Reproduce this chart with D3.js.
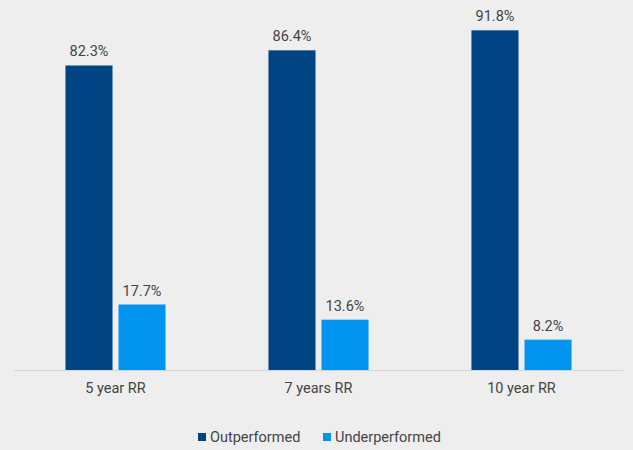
<!DOCTYPE html>
<html>
<head>
<meta charset="utf-8">
<script src="https://cdn.jsdelivr.net/npm/d3@7"></script>
<style>
  body { margin: 0; background: #eeeeee; }
  svg { display: block; font-family: Roboto, "Noto Sans", sans-serif; }
</style>
</head>
<body>
<svg width="633" height="450"></svg>
<script>
// chart data
let categories = ["5 year RR", "7 years RR", "10 year RR"];
let series = ["Outperformed", "Underperformed"];
let outperformed = [82.3, 86.4, 91.8];
let underperformed = [17.7, 13.6, 8.2];
let colors = ["#004483", "#0094ef"];

let rows = categories.map((c, i) => ({
  cat: c,
  vals: [outperformed[i], underperformed[i]]
}));

let svg = d3.select("svg");

// plot area
let left = 14, right = 623, baseline = 370;

let x0 = d3.scaleBand()
  .domain(categories)
  .range([left, right])
  .paddingInner(0.507)
  .paddingOuter(0.2535);

let x1 = d3.scaleBand()
  .domain(series)
  .range([0, x0.bandwidth()])
  .paddingInner(0.113);

let y = d3.scaleLinear().domain([0, 100]).range([baseline, 0]);

let color = d3.scaleOrdinal().domain(series).range(colors);

// baseline axis
let xAxis = d3.axisBottom(x0).tickSize(0).tickPadding(13);
let gx = svg.append("g")
  .attr("transform", "translate(0," + baseline + ")")
  .call(xAxis);
gx.select(".domain").attr("stroke", "#d4d4d4").attr("stroke-width", 1.2);
gx.selectAll("text")
  .attr("font-size", "14.5px")
  .attr("fill", "#444444")
  .style("font-family", "Roboto, sans-serif");

let groups = svg.selectAll(".grp")
  .data(rows)
  .enter()
  .append("g")
  .attr("class", "grp")
  .attr("transform", d => "translate(" + x0(d.cat) + ",0)");

let bars = groups.selectAll(".bar")
  .data(d => series.map((s, j) => ({ s: s, v: d.vals[j] })))
  .enter();

bars.append("rect")
  .attr("class", "bar")
  .attr("x", d => x1(d.s))
  .attr("width", x1.bandwidth())
  .attr("y", d => y(d.v))
  .attr("height", d => baseline - y(d.v))
  .attr("fill", d => color(d.s));

bars.append("text")
  .attr("x", d => x1(d.s) + x1.bandwidth() / 2)
  .attr("y", d => y(d.v) - 9)
  .attr("text-anchor", "middle")
  .attr("font-size", "14.5px")
  .attr("fill", "#444444")
  .text(d => d.v.toFixed(1) + "%");

// legend
let legendX = [198, 323];
let legend = svg.selectAll(".leg")
  .data(series)
  .enter()
  .append("g")
  .attr("class", "leg")
  .attr("transform", (d, i) => "translate(" + legendX[i] + ",437)");

legend.append("rect")
  .attr("x", 0)
  .attr("y", -4)
  .attr("width", 8)
  .attr("height", 8)
  .attr("fill", d => color(d));

legend.append("text")
  .attr("x", 12)
  .attr("y", 5)
  .attr("font-size", "14.5px")
  .attr("fill", "#444444")
  .text(d => d);
</script>
</body>
</html>
